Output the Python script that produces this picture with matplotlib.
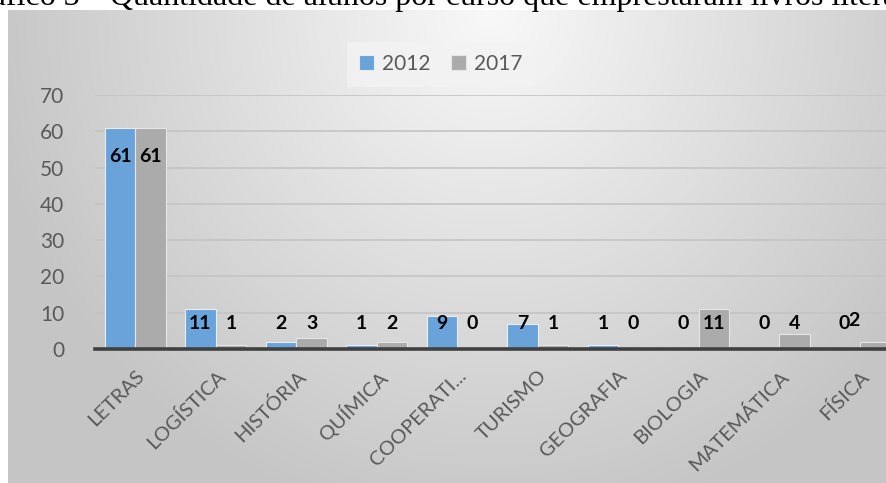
import numpy as np
import matplotlib.pyplot as plt

# Dados do gráfico
cursos = ['LETRAS', 'LOGÍSTICA', 'HISTÓRIA', 'QUÍMICA', 'COOPERATI...',
          'TURISMO', 'GEOGRAFIA', 'BIOLOGIA', 'MATEMÁTICA', 'FÍSICA']
alunos_2012 = [61, 11, 2, 1, 9, 7, 1, 0, 0, 0]
alunos_2017 = [61, 1, 3, 2, 0, 1, 0, 11, 4, 2]
anos = ['2012', '2017']
yticks = [0, 10, 20, 30, 40, 50, 60, 70]

cor_2012 = '#6aa3d9'
cor_2017 = '#ababab'
cinza_texto = '#595959'

W, H = 887, 483
fig = plt.figure(figsize=(W / 100, H / 100), dpi=100)

# Título cortado no topo da imagem (só aparece a parte de baixo)
fig.text(104 / W, 1 - 5 / H, 'Gráfico 3 –', ha='right', va='baseline',
         fontsize=23, family='Liberation Serif')
fig.text(110 / W, 1 - 5 / H,
         'Quantidade de alunos por curso que emprestaram livros literários',
         ha='left', va='baseline', fontsize=23, family='Liberation Serif')

# Fundo com gradiente (área do gráfico)
bg = fig.add_axes([8 / W, 0, 1 - 8 / W, 1 - 10 / H])
xx, yy = np.meshgrid(np.linspace(0, 1, 300), np.linspace(0, 1, 200))
r = np.sqrt(((xx - 0.55) / 0.55) ** 2 + (yy / 1.05) ** 2)
g = 0.975 - 0.19 * np.clip(r, 0, 1.05)
bg.imshow(np.dstack([g, g, g]), aspect='auto', extent=[0, 1, 1, 0])
bg.set_axis_off()

# Eixo principal
ax = fig.add_axes([95 / W, 1 - 349 / H, 805 / W, 254 / H])
ax.set_facecolor('none')
x = np.arange(len(cursos))
w = 0.38
b1 = ax.bar(x - w / 2, alunos_2012, w, color=cor_2012, edgecolor='#e8eef5',
            linewidth=0.8, label=anos[0], zorder=3)
b2 = ax.bar(x + w / 2, alunos_2017, w, color=cor_2017, edgecolor='#e6e6e6',
            linewidth=0.8, label=anos[1], zorder=3)

ax.set_xlim(-0.5, len(cursos) - 0.5)
ax.set_ylim(0, 70)
ax.set_yticks(yticks)
ax.grid(axis='y', color='#c4c4c4', linewidth=1.2, zorder=0)
ax.set_axisbelow(True)
for s in ['top', 'right', 'left']:
    ax.spines[s].set_visible(False)
ax.spines['bottom'].set_color('#404040')
ax.spines['bottom'].set_linewidth(2.6)
ax.spines['bottom'].set_zorder(5)
ax.tick_params(axis='y', length=0, pad=22, labelsize=15, labelcolor=cinza_texto)
ax.tick_params(axis='x', length=0, pad=13, labelsize=14.5, labelcolor=cinza_texto)
for lbl in ax.get_yticklabels():
    lbl.set_family('Lato')
ax.set_xticks(x)
ax.set_xticklabels(cursos, rotation=45, ha='right', rotation_mode='anchor',
                   family='Lato')

# Rótulos de dados
def rotular(barras, valores, desloc):
    for i, (bar, v) in enumerate(zip(barras, valores)):
        yl = v - 8 if v - 8 > 7 else 7
        dx, dy = desloc.get(i, (0, 0))
        ax.annotate(str(v), (bar.get_x() + bar.get_width() / 2, yl),
                    xytext=(dx, dy), textcoords='offset points',
                    ha='center', va='center', fontsize=14, fontweight='bold',
                    family='Lato', color='black', zorder=6)

rotular(b1, alunos_2012, {})
rotular(b2, alunos_2017, {9: (-15, 2)})

# Legenda
leg = ax.legend(loc='center', bbox_to_anchor=(441 / W, 1 - 64 / H),
                bbox_transform=fig.transFigure, ncol=2, frameon=True,
                prop={'family': 'Lato', 'size': 15},
                handlelength=0.7, handleheight=0.7, columnspacing=1.0,
                handletextpad=0.4, borderpad=0.6, fancybox=False)
leg.get_frame().set_facecolor('#f3f3f3')
leg.get_frame().set_edgecolor('none')
leg.get_frame().set_alpha(0.8)
for t in leg.get_texts():
    t.set_color(cinza_texto)

fig.savefig('out.png', dpi=100)
